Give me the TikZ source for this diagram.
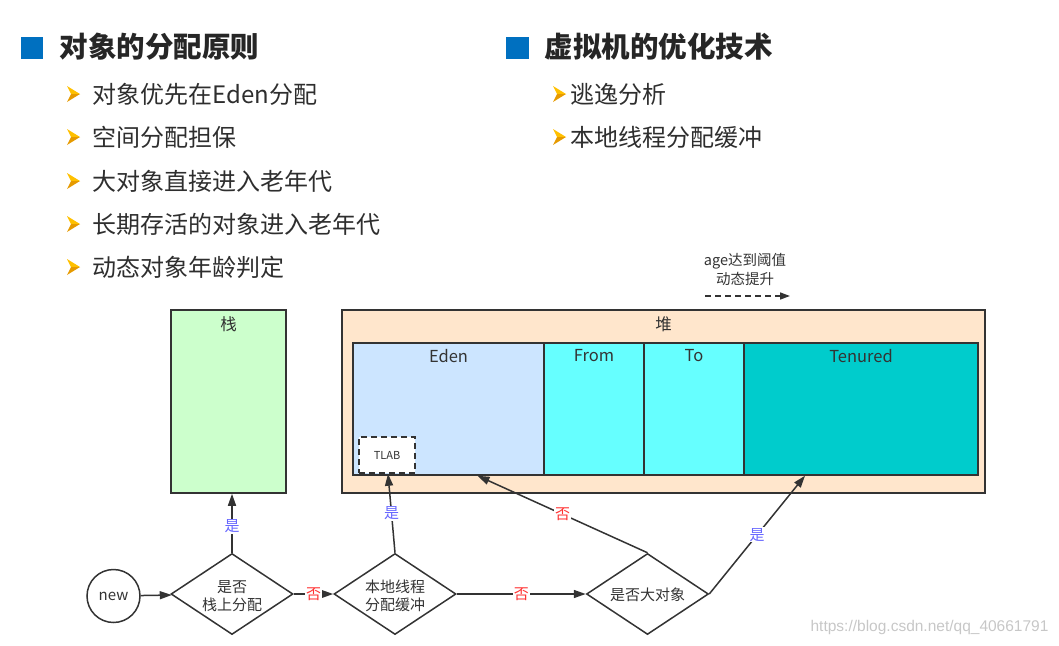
\documentclass[tikz,border=0pt]{standalone}
\usepackage{fontspec}
\setmainfont{Noto Sans CJK SC}
\newfontfamily\wmfont{Liberation Sans}
\usetikzlibrary{arrows.meta,shapes.geometric,calc}
\definecolor{txt}{HTML}{333333}
\definecolor{ttl}{HTML}{262626}
\definecolor{sq}{HTML}{0070C0}
\definecolor{bul}{HTML}{FFC000}
\definecolor{buldark}{HTML}{E69A00}
\definecolor{stackc}{HTML}{CCFFCC}
\definecolor{heapc}{HTML}{FFE6CC}
\definecolor{edenc}{HTML}{CCE5FF}
\definecolor{survc}{HTML}{66FFFF}
\definecolor{tenc}{HTML}{00CCCC}
\definecolor{yesc}{HTML}{6666FF}
\definecolor{noc}{HTML}{FF3333}
\tikzset{
  area/.style={draw=txt, line width=1.5pt, rectangle, inner sep=0pt},
  dec/.style={draw=txt, line width=1.5pt, shape=diamond, inner sep=0pt, minimum width=122pt, minimum height=81pt},
  dtext/.style={text=txt, align=center, font=\fontsize{15}{18}\selectfont},
  lbl/.style={text=txt, font=\fontsize{16.5}{19}\selectfont},
  arr/.style={draw=txt, line width=1.5pt, -{Triangle[length=12pt,width=8pt]}},
  yes/.style={fill=white, text=yesc, inner sep=1pt, font=\fontsize{15}{17}\selectfont},
  no/.style={fill=white, text=noc, inner sep=1pt, font=\fontsize{15}{17}\selectfont},
  title/.style={anchor=west, text=ttl, font=\fontsize{28.5}{31}\selectfont\bfseries},
  item/.style={anchor=west, text=txt!90!black, font=\fontsize{24}{28}\selectfont},
}
\newcommand{\mybullet}[2]{%
  \fill[bul] (#1,#2-8) -- (#1+13,#2) -- (#1+4,#2) -- cycle;
  \fill[buldark] (#1,#2+8) -- (#1+13,#2) -- (#1+4,#2) -- cycle;
}
\begin{document}
\begin{tikzpicture}[x=1pt,y=-1pt]
\useasboundingbox (0,0) rectangle (1059,645);
% left column
\fill[sq] (21,37) rectangle (43,59);
\node[title] (t1) at (56,47) {对象的分配原则};
\foreach \yy/\tx [count=\i] in {94/对象优先在Eden分配,137/空间分配担保,181/大对象直接进入老年代,224/长期存活的对象进入老年代,267/动态对象年龄判定}{
  \mybullet{67}{\yy}
  \node[item] (l\i) at (89,\yy) {\tx};
}
% right column
\fill[sq] (506,37) rectangle (529,59);
\node[title] (t2) at (541,47) {虚拟机的优化技术};
\mybullet{553}{94}
\node[item] (r1) at (567,94) {逃逸分析};
\mybullet{553}{137}
\node[item] (r2) at (567,137) {本地线程分配缓冲};

% age note
\node[text=txt, align=center, font=\fontsize{14.5}{19}\selectfont] (age) at (745,269) {age达到阈值\\动态提升};
\coordinate (dA) at (705,296);
\coordinate (dB) at (790,296);
\draw[draw=txt, line width=1.5pt, dash pattern=on 6pt off 4pt, -{Triangle[length=10pt,width=7pt]}] (dA) -- (dB);

% stack and heap
\node[area, fill=stackc, minimum width=115pt, minimum height=183pt] (stack) at (228.5,401.5) {};
\node[lbl] (stackl) at (228.5,324) {栈};
\node[area, fill=heapc, minimum width=643pt, minimum height=183pt] (heap) at (663.5,401.5) {};
\node[lbl] (heapl) at (663.5,324) {堆};
\node[area, fill=edenc, minimum width=191pt, minimum height=132pt] (eden) at (448.5,409) {};
\node[area, fill=survc, minimum width=100pt, minimum height=132pt] (from) at (594,409) {};
\node[area, fill=survc, minimum width=100pt, minimum height=132pt] (to) at (694,409) {};
\node[area, fill=tenc, minimum width=234pt, minimum height=132pt] (ten) at (861,409) {};
\node[lbl] (edenl) at (448.5,356) {Eden};
\node[lbl] (froml) at (594,356) {From};
\node[lbl] (tol) at (694,356) {To};
\node[lbl] (tenl) at (861,356) {Tenured};
\node[draw=txt, line width=1.5pt, dash pattern=on 6pt off 4pt, fill=white, minimum width=56pt, minimum height=36pt, inner sep=0pt, text=txt, font=\fontsize{11}{13}\selectfont] (tlab) at (387,455) {TLAB};

% flow
\node[circle, draw=txt, line width=1.5pt, minimum size=53pt, inner sep=0pt, text=txt, font=\fontsize{15}{18}\selectfont] (new) at (113.5,596) {new};
\node[dec] (d1) at (232,594) {};
\node[dtext] (d1t) at (232,596) {是否\\栈上分配};
\node[dec] (d2) at (395,594) {};
\node[dtext] (d2t) at (395,596) {本地线程\\分配缓冲};
\node[dec] (d3) at (647.5,594) {};
\node[dtext] (d3t) at (647.5,595) {是否大对象};

\draw[arr] (new) -- (d1);
\draw[arr] (d1.east) -- node[no] {否} (d2.west);
\draw[arr] (d2.east) -- node[no] {否} (d3.west);
\draw[arr] (d1.north) -- node[yes, pos=0.45] {是} (d1.north |- stack.south);
\draw[arr] (d2.north) -- node[yes] {是} ([xshift=1pt]tlab.south);
\draw[arr] (d3.north) -- node[no] {否} ([xshift=29pt]eden.south);
\draw[arr] (d3.east) -- node[yes] {是} ([xshift=-56pt]ten.south);

% watermark
\node[anchor=east, text=black!22, font=\wmfont\fontsize{15.5}{18}\selectfont] (wm) at (1052,627) {https://blog.csdn.net/qq\_40661791};
\end{tikzpicture}
\end{document}
